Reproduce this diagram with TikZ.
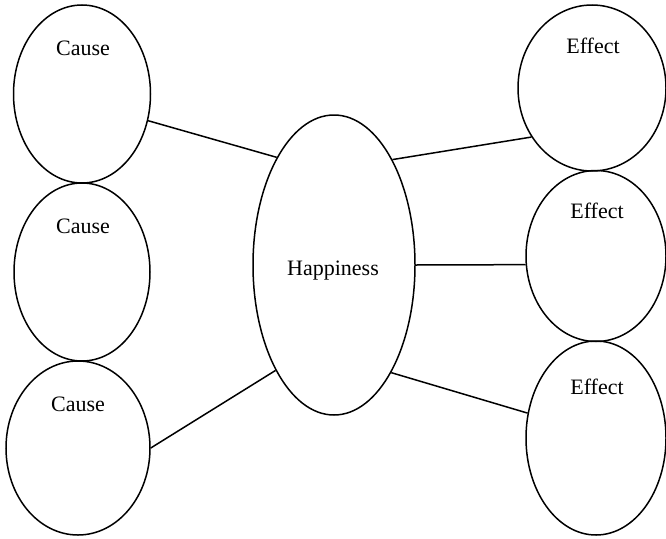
\documentclass[tikz,border=0pt]{standalone}
\usepackage{fontspec}
\setmainfont{Liberation Serif}
\usetikzlibrary{shapes.geometric}
\begin{document}
\begin{tikzpicture}[x=1pt,y=-1pt,
  oval/.style={draw,ellipse,line width=1.5pt,inner sep=0pt},
  lbl/.style={anchor=base,font=\fontsize{22}{26}\selectfont},
  link/.style={line width=1.5pt}]
\useasboundingbox (0,0) rectangle (666,538);
\node[oval,minimum width=137pt,minimum height=178pt] (c1) at (82,94) {};
\node[oval,minimum width=136pt,minimum height=178pt] (c2) at (82,272) {};
\node[oval,minimum width=144pt,minimum height=174pt] (c3) at (78,448) {};
\node[oval,minimum width=162pt,minimum height=300pt] (h) at (334,265) {};
\node[oval,minimum width=148pt,minimum height=166pt] (e1) at (592,88) {};
\node[oval,minimum width=140pt,minimum height=171pt] (e2) at (596,256) {};
\node[oval,minimum width=140pt,minimum height=194pt] (e3) at (596,438) {};
\node[lbl] (c1t) at (83,55) {Cause};
\node[lbl] (c2t) at (83,233) {Cause};
\node[lbl] (c3t) at (78,411) {Cause};
\node[lbl] (ht) at (333,275) {Happiness};
\node[lbl] (e1t) at (593,53) {Effect};
\node[lbl] (e2t) at (597,218) {Effect};
\node[lbl] (e3t) at (597,394) {Effect};
\draw[link] (c1.-22) -- (h.118.5);
\draw[link] (c3.0) -- (h.241.5);
\draw[link] (h.61.5) -- (e1.219.7);
\draw[link] (h.0) -- (e2.187);
\draw[link] (h.298.5) -- (e3.160.6);
\end{tikzpicture}
\end{document}
